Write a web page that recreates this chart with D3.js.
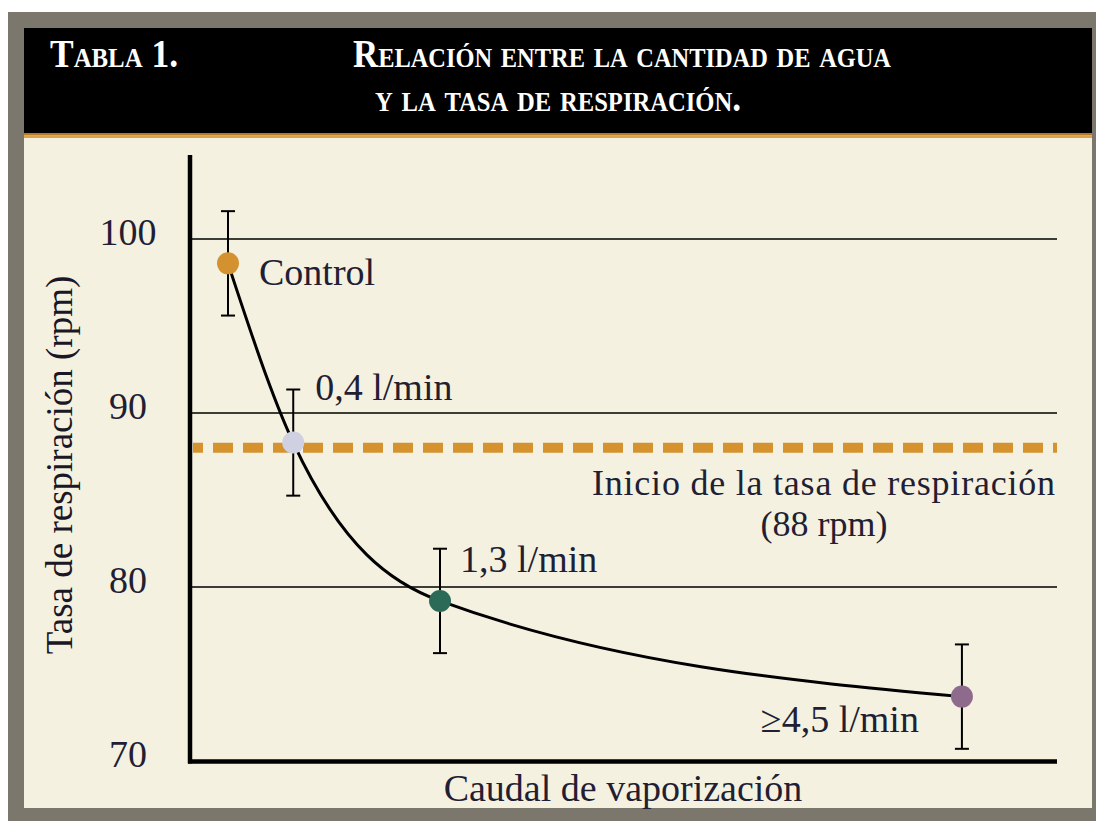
<!DOCTYPE html>
<meta charset="utf-8">
<style>
body { margin: 0; background: #fff; }
</style>
<html>
<body>
<div id="chart"></div>
<script src="https://d3js.org/d3.v7.min.js"></script>
<script>

// data
var flow = [0, 0.4, 1.3, 4.5];                 // caudal de vaporización (l/min)
var rate = [98.6, 88.3, 79.2, 73.7];           // tasa de respiración (rpm)
var err = [3, 3.05, 3, 3];                     // error bar half-widths (rpm)
var pointLabels = ["Control", "0,4 l/min", "1,3 l/min", "\u22654,5 l/min"];
var pointColors = ["#d3912f", "#cfd1e2", "#2c6a58", "#8e6a8d"];
var yTicks = [70, 80, 90, 100];
var threshold = 88;

var W = 1096, H = 821;
var serif = "'Liberation Serif', 'DejaVu Serif', 'Times New Roman', serif";

var svg = d3.select("#chart").append("svg")
    .attr("width", W).attr("height", H)
    .attr("font-family", serif);

// frame
svg.append("rect").attr("x", 8).attr("y", 12).attr("width", 1088).attr("height", 809).attr("fill", "#7c776c");
svg.append("rect").attr("x", 24).attr("y", 28).attr("width", 1068).attr("height", 780).attr("fill", "#f4f1e0");
svg.append("rect").attr("x", 24).attr("y", 28).attr("width", 1068).attr("height", 105).attr("fill", "#000");
svg.append("rect").attr("x", 24).attr("y", 133).attr("width", 1068).attr("height", 2.5).attr("fill", "#b57a26");
svg.append("rect").attr("x", 24).attr("y", 135.5).attr("width", 1068).attr("height", 2.5).attr("fill", "#dea24a");

// header text
var head = svg.append("g")
    .attr("fill", "#fff")
    .attr("font-family", serif)
    .style("font-weight", "bold")
    .style("font-variant", "small-caps")
    .style("font-size", "40px");
head.append("text").attr("x", 50).attr("y", 67).attr("textLength", 128).attr("lengthAdjust", "spacingAndGlyphs").text("Tabla 1.");
head.append("text").attr("x", 353).attr("y", 67).attr("textLength", 538).attr("lengthAdjust", "spacingAndGlyphs").text("Relación entre la cantidad de agua");
head.append("text").attr("x", 375).attr("y", 111).attr("textLength", 366).attr("lengthAdjust", "spacingAndGlyphs").text("y la tasa de respiración.");

// scales
var x = d3.scaleLinear().domain([-0.233, 5.083]).range([190, 1057]);
var y = d3.scaleLinear().domain([70, 100]).range([761, 239]);

var textColor = "#221e33";

// gridlines
svg.append("g").selectAll("line")
    .data(yTicks.filter(function(d) { return d > 70; }))
    .enter().append("line")
    .attr("x1", 190).attr("x2", 1057)
    .attr("y1", function(d) { return y(d); })
    .attr("y2", function(d) { return y(d); })
    .attr("stroke", "#000").attr("stroke-width", 1.6);

// threshold dashed line
svg.append("line")
    .attr("x1", 193).attr("x2", 1057)
    .attr("y1", y(threshold)).attr("y2", y(threshold))
    .attr("stroke", "#d4932f").attr("stroke-width", 10)
    .attr("stroke-dasharray", "20,10").attr("stroke-dashoffset", 10);

svg.append("text")
    .attr("x", 592).attr("y", 495)
    .attr("textLength", 463)
    .attr("fill", textColor)
    .attr("font-family", serif)
    .style("font-size", "36px")
    .text("Inicio de la tasa de respiración");
svg.append("text")
    .attr("x", 824).attr("y", 536)
    .attr("text-anchor", "middle").attr("fill", textColor)
    .attr("font-family", serif)
    .style("font-size", "36px")
    .text("(" + threshold + " rpm)");

// axes
svg.append("line").attr("x1", 190).attr("x2", 190).attr("y1", 155).attr("y2", 763.5)
    .attr("stroke", "#000").attr("stroke-width", 4.5);
svg.append("line").attr("x1", 188).attr("x2", 1057).attr("y1", 761.5).attr("y2", 761.5)
    .attr("stroke", "#000").attr("stroke-width", 4.5);

svg.append("g").selectAll("text")
    .data(yTicks).enter().append("text")
    .attr("x", 128)
    .attr("y", function(d) { return y(d) + 6; })
    .attr("text-anchor", "middle").attr("fill", textColor)
    .attr("font-family", serif)
    .style("font-size", "38px")
    .text(function(d) { return d; });

svg.append("text")
    .attr("transform", "translate(72,465) rotate(-90)")
    .attr("text-anchor", "middle").attr("fill", "#1a1726")
    .attr("font-family", serif)
    .style("font-size", "37px")
    .text("Tasa de respiración (rpm)");

svg.append("text")
    .attr("x", 623).attr("y", 801)
    .attr("text-anchor", "middle").attr("fill", textColor)
    .attr("font-family", serif)
    .style("font-size", "38px")
    .text("Caudal de vaporización");

// data
var data = flow.map(function(f, i) {
    return { flow: f, rate: rate[i], err: err[i], label: pointLabels[i], color: pointColors[i] };
});

var line = d3.line()
    .x(function(d) { return x(d.flow); })
    .y(function(d) { return y(d.rate); })
    .curve(d3.curveMonotoneX);

svg.append("path")
    .datum(data)
    .attr("d", line)
    .attr("fill", "none").attr("stroke", "#000").attr("stroke-width", 3);

// error bars
var eb = svg.append("g").attr("stroke", "#000").attr("stroke-width", 2);
data.forEach(function(d) {
    var cx = x(d.flow);
    eb.append("line").attr("x1", cx).attr("x2", cx).attr("y1", y(d.rate + d.err)).attr("y2", y(d.rate - d.err));
    eb.append("line").attr("x1", cx - 7).attr("x2", cx + 7).attr("y1", y(d.rate + d.err)).attr("y2", y(d.rate + d.err));
    eb.append("line").attr("x1", cx - 7).attr("x2", cx + 7).attr("y1", y(d.rate - d.err)).attr("y2", y(d.rate - d.err));
});

// points
svg.append("g").selectAll("circle")
    .data(data).enter().append("circle")
    .attr("cx", function(d) { return x(d.flow); })
    .attr("cy", function(d) { return y(d.rate); })
    .attr("r", 11)
    .attr("fill", function(d) { return d.color; });

// point labels (offsets from their point)
var offs = [[31, 22, "start"], [22, -43, "start"], [20, -29, "start"], [-43, 35, "end"]];
svg.append("g").selectAll("text")
    .data(data).enter().append("text")
    .attr("x", function(d, i) { return x(d.flow) + offs[i][0]; })
    .attr("y", function(d, i) { return y(d.rate) + offs[i][1]; })
    .attr("text-anchor", function(d, i) { return offs[i][2]; })
    .attr("fill", textColor)
    .attr("font-family", serif)
    .style("font-size", "38px")
    .text(function(d) { return d.label; });

</script>
</body>
</html>
